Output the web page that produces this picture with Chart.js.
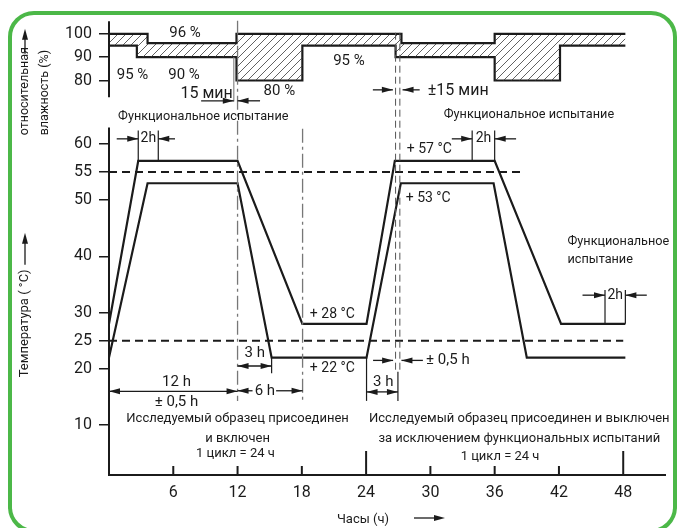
<!DOCTYPE html>
<html><head><meta charset="utf-8">
<script src="https://cdn.jsdelivr.net/npm/chart.js@4.4.1/dist/chart.umd.min.js"></script>
<style>
html,body{margin:0;padding:0;background:#fff;}
#wrap{position:relative;width:679px;height:528px;overflow:hidden;background:#fff;}
#frame{position:absolute;left:8px;top:11px;width:669px;height:522px;border:4.5px solid #4cb848;border-radius:26px;box-sizing:border-box;}
#c{position:absolute;left:0;top:0;}
</style></head>
<body><div id="wrap"><div id="frame"></div><canvas id="c" width="679" height="528"></canvas></div>
<script>
// ---- data ----
const xTicks = [6, 12, 18, 24, 30, 36, 42, 48];
const tempTicks = [10, 20, 25, 30, 40, 50, 55, 60];
const humTicks = [80, 90, 100];

const humUpperX = [0, 3.6, 11.9, 27.3, 36, 48.2];
const humUpperY = [100, 96, 100, 96, 100, 100];
const humLowerX = [0, 2.6, 11.9, 18.05, 26.75, 36, 42.1, 48.2];
const humLowerY = [95, 90, 80, 95, 90, 80, 95, 95];

const tempMaxX = [0, 2.73, 12, 18.05, 24.04, 26.68, 36, 42.2, 48.2];
const tempMaxY = [28, 57, 57, 28, 28, 57, 57, 28, 28];
const tempMinX = [0, 3.6, 12, 15.18, 24.04, 27.24, 35.9, 39, 48.2];
const tempMinY = [22, 53, 53, 22, 22, 53, 53, 22, 22];

const limitHighX = [0, 38.8], limitHighY = [55, 55];
const limitLowX = [0, 48], limitLowY = [25, 25];

// annotations (data units): axis 'h' = humidity, 't' = temperature
const refLines = [
  {x: 12, a1: 'h', v1: 105.6, a2: 't', v2: 14.3, kind: 'dashdot'},
  {x: 11.65, a1: 'h', v1: 90, a2: 'h', v2: 71, kind: 'thin'},
  {x: 18.07, a1: 't', v1: 62.7, a2: 't', v2: 14.3, kind: 'dashdot'},
  {x: 26.75, a1: 'h', v1: 100.5, a2: 't', v2: 19.5, kind: 'dash'},
  {x: 27.15, a1: 'h', v1: 100.5, a2: 't', v2: 19.5, kind: 'dash'},
  {x: 26.97, a1: 't', v1: 19.5, a2: 't', v2: 14.3, kind: 'solid'},
  {x: 24.04, a1: 't', v1: 22, a2: 't', v2: 14.3, kind: 'solid'},
  {x: 15.18, a1: 't', v1: 22, a2: 't', v2: 19.2, kind: 'solid'},
  {x: 2.73, a1: 't', v1: 57, a2: 't', v2: 62.4, kind: 'solid'},
  {x: 4.6, a1: 't', v1: 57, a2: 't', v2: 62.4, kind: 'solid'},
  {x: 33.9, a1: 't', v1: 57, a2: 't', v2: 62.4, kind: 'solid'},
  {x: 36, a1: 't', v1: 57, a2: 't', v2: 62.4, kind: 'solid'},
  {x: 46.3, a1: 't', v1: 28, a2: 't', v2: 34, kind: 'solid'},
  {x: 48.2, a1: 't', v1: 28, a2: 't', v2: 34, kind: 'solid'}
];
const arrows = [
  {x1: 8.6, x2: 11.65, a: 'h', y: 71.3},
  {x1: 14.1, x2: 12.0, a: 'h', y: 71.3},
  {x1: 24.63, x2: 26.5, a: 'h', y: 76},
  {x1: 29.0, x2: 27.4, a: 'h', y: 76},
  {x1: 0.72, x2: 2.73, a: 't', y: 60.9},
  {x1: 6.16, x2: 4.6, a: 't', y: 60.9},
  {x1: 32.0, x2: 33.9, a: 't', y: 60.9},
  {x1: 38.0, x2: 36.0, a: 't', y: 60.9},
  {x1: 44.2, x2: 46.3, a: 't', y: 33.1},
  {x1: 50.2, x2: 48.2, a: 't', y: 33.1},
  {x1: 24.65, x2: 26.52, a: 't', y: 21.5},
  {x1: 29.3, x2: 27.3, a: 't', y: 21.5},
  {x1: 12, x2: 15.18, a: 't', y: 20.5, both: true},
  {x1: 24.04, x2: 26.97, a: 't', y: 15.9, both: true},
  {x1: 0, x2: 12, a: 't', y: 16, both: true},
  {x1: 13.4, x2: 12.0, a: 't', y: 16.1},
  {x1: 15.6, x2: 18.07, a: 't', y: 16.1}
];
const notes = [
  {t: '96 %', x: 7.1, a: 'h', y: 100.3, s: 15, al: 'center'},
  {t: '95 %', x: 2.2, a: 'h', y: 82.1, s: 15, al: 'center'},
  {t: '90 %', x: 7.0, a: 'h', y: 82.1, s: 15, al: 'center'},
  {t: '80 %', x: 15.9, a: 'h', y: 75.3, s: 15, al: 'center'},
  {t: '95 %', x: 22.4, a: 'h', y: 88.2, s: 15, al: 'center'},
  {t: '15 мин', x: 11.55, a: 'h', y: 74.3, s: 16, al: 'right'},
  {t: '±15 мин', x: 29.76, a: 'h', y: 75.5, s: 16, al: 'left'},
  {t: 'Функциональное испытание', x: 8.8, a: 't', y: 64.8, s: 12.7, al: 'center'},
  {t: 'Функциональное испытание', x: 39.2, a: 't', y: 65.1, s: 12.7, al: 'center'},
  {t: '2h', x: 3.67, a: 't', y: 60.9, s: 14, al: 'center'},
  {t: '2h', x: 34.95, a: 't', y: 60.9, s: 14, al: 'center'},
  {t: '+ 57 °C', x: 27.8, a: 't', y: 59, s: 14, al: 'left'},
  {t: '+ 53 °C', x: 27.7, a: 't', y: 50.3, s: 14, al: 'left'},
  {t: 'Функциональное', x: 42.8, a: 't', y: 42.5, s: 12.7, al: 'left'},
  {t: 'испытание', x: 42.8, a: 't', y: 39.4, s: 12.7, al: 'left'},
  {t: '2h', x: 47.25, a: 't', y: 33.1, s: 14, al: 'center'},
  {t: '+ 28 °C', x: 18.75, a: 't', y: 29.7, s: 14, al: 'left'},
  {t: '+ 22 °C', x: 18.75, a: 't', y: 20.1, s: 14, al: 'left'},
  {t: '3 h', x: 13.6, a: 't', y: 22.7, s: 15, al: 'center'},
  {t: '± 0,5 h', x: 29.6, a: 't', y: 21.5, s: 15, al: 'left'},
  {t: '3 h', x: 25.6, a: 't', y: 17.7, s: 15, al: 'center'},
  {t: '12 h', x: 6.3, a: 't', y: 17.7, s: 15, al: 'center'},
  {t: '± 0,5 h', x: 6.3, a: 't', y: 14.1, s: 15, al: 'center'},
  {t: '6 h', x: 14.55, a: 't', y: 16.1, s: 15, al: 'center'},
  {t: 'Исследуемый образец присоединен', x: 12, a: 't', y: 11.2, s: 13, al: 'center'},
  {t: 'и включен', x: 12, a: 't', y: 7.5, s: 13, al: 'center'},
  {t: '1 цикл = 24 ч', x: 11.8, a: 't', y: 4.97, s: 13, al: 'center'},
  {t: 'Исследуемый образец присоединен и выключен', x: 38.3, a: 't', y: 11.2, s: 13, al: 'center'},
  {t: 'за исключением функциональных испытаний', x: 38.3, a: 't', y: 7.5, s: 13, al: 'center'},
  {t: '1 цикл = 24 ч', x: 36.5, a: 't', y: 4.3, s: 13, al: 'center'}
];

// ---- helpers ----
const FONT = 'Roboto, "Noto Sans", sans-serif';
const INK = '#1b1b1b';
const pts = (xs, ys) => xs.map((x, i) => ({x: x, y: ys[i]}));

function hatch() {
  const c = document.createElement('canvas');
  c.width = 8; c.height = 8;
  const g = c.getContext('2d');
  g.strokeStyle = '#3a3a3a'; g.lineWidth = 0.8;
  g.beginPath();
  g.moveTo(-1, 9); g.lineTo(9, -1);
  g.moveTo(-1, 1); g.lineTo(1, -1);
  g.moveTo(7, 9); g.lineTo(9, 7);
  g.stroke();
  return g.createPattern(c, 'repeat');
}

function head(ctx, x, y, dir) {
  ctx.beginPath();
  ctx.moveTo(x, y);
  ctx.lineTo(x - dir * 11, y - 3);
  ctx.lineTo(x - dir * 11, y + 3);
  ctx.closePath();
  ctx.fill();
}

const drawer = {
  id: 'drawer',
  afterDatasetsDraw(chart) {
    const ctx = chart.ctx;
    const X = chart.scales.x, H = chart.scales.yH, T = chart.scales.yT;
    const Y = (a, v) => (a === 'h' ? H : T).getPixelForValue(v);
    ctx.save();
    // axis lines
    ctx.strokeStyle = INK; ctx.lineWidth = 2;
    const x0 = X.getPixelForValue(0);
    ctx.beginPath();
    ctx.moveTo(x0, Y('h', 105.4)); ctx.lineTo(x0, Y('h', 72.8));
    ctx.moveTo(x0, Y('t', 62.9)); ctx.lineTo(x0, X.top);
    ctx.stroke();
    // x tick marks (inward)
    ctx.lineWidth = 2;
    xTicks.forEach(v => {
      const px = X.getPixelForValue(v);
      const len = (v % 24 === 0) ? 24 : 9;
      ctx.beginPath(); ctx.moveTo(px, X.top); ctx.lineTo(px, X.top - len); ctx.stroke();
    });
    // reference lines
    refLines.forEach(r => {
      const px = X.getPixelForValue(r.x);
      ctx.beginPath();
      if (r.kind === 'dashdot') { ctx.setLineDash([14, 4, 3, 4]); ctx.strokeStyle = '#777'; ctx.lineWidth = 1.3; }
      else if (r.kind === 'dash') { ctx.setLineDash([7, 4]); ctx.strokeStyle = '#555'; ctx.lineWidth = 1; }
      else if (r.kind === 'thin') { ctx.setLineDash([]); ctx.strokeStyle = '#888'; ctx.lineWidth = 1.2; }
      else { ctx.setLineDash([]); ctx.strokeStyle = INK; ctx.lineWidth = 1.2; }
      ctx.moveTo(px, Y(r.a1, r.v1)); ctx.lineTo(px, Y(r.a2, r.v2));
      ctx.stroke();
    });
    ctx.setLineDash([]);
    // arrows
    ctx.strokeStyle = INK; ctx.fillStyle = INK; ctx.lineWidth = 1.3;
    arrows.forEach(a => {
      const p1 = X.getPixelForValue(a.x1), p2 = X.getPixelForValue(a.x2), py = Y(a.a, a.y);
      ctx.beginPath(); ctx.moveTo(p1, py); ctx.lineTo(p2, py); ctx.stroke();
      const dir = p2 > p1 ? 1 : -1;
      head(ctx, p2, py, dir);
      if (a.both) head(ctx, p1, py, -dir);
    });
    // notes
    ctx.fillStyle = INK; ctx.textBaseline = 'middle';
    notes.forEach(n => {
      ctx.font = n.s + 'px ' + FONT;
      ctx.textAlign = n.al;
      ctx.fillText(n.t, X.getPixelForValue(n.x), Y(n.a, n.y));
    });
    // axis titles
    ctx.font = '13px ' + FONT;
    ctx.textAlign = 'left';
    const tx = x0 - 84;
    const rot = (txt, x, y) => { ctx.save(); ctx.translate(x, y); ctx.rotate(-Math.PI / 2); ctx.fillText(txt, 0, 0); ctx.restore(); };
    rot('Температура ( °C)', tx, Y('t', 18.5));
    ctx.font = '12.5px ' + FONT;
    rot('относительная', tx, Y('h', 56.5));
    rot('влажность (%)', tx + 20, Y('h', 56.5));
    const up = (x, yb, yt) => {
      ctx.beginPath(); ctx.moveTo(x, yb); ctx.lineTo(x, yt + 8); ctx.stroke();
      ctx.beginPath(); ctx.moveTo(x, yt); ctx.lineTo(x - 3, yt + 11); ctx.lineTo(x + 3, yt + 11); ctx.closePath(); ctx.fill();
    };
    ctx.lineWidth = 1.3;
    up(tx, Y('t', 38.5), Y('t', 44.2));
    up(tx, Y('h', 91.5), Y('h', 102.2));
    // x title
    ctx.font = '13px ' + FONT;
    ctx.textAlign = 'center';
    ctx.fillText('Часы (ч)', 363, 520);
    ctx.beginPath(); ctx.moveTo(414, 518); ctx.lineTo(436, 518); ctx.stroke();
    head(ctx, 445, 518, 1);
    ctx.restore();
  }
};

const lineDs = (data, axis, extra) => Object.assign({
  data: data, yAxisID: axis, borderColor: INK, borderWidth: 2.2, pointRadius: 0,
  tension: 0, fill: false, borderJoinStyle: 'miter', borderCapStyle: 'butt'
}, extra || {});

new Chart(document.getElementById('c'), {
  type: 'line',
  data: {
    datasets: [
      lineDs(pts(humUpperX, humUpperY), 'yH', {stepped: 'before', fill: '+1', backgroundColor: hatch()}),
      lineDs(pts(humLowerX, humLowerY), 'yH', {stepped: 'before'}),
      lineDs(pts(tempMaxX, tempMaxY), 'yT'),
      lineDs(pts(tempMinX, tempMinY), 'yT'),
      lineDs(pts(limitHighX, limitHighY), 'yT', {borderDash: [8, 5], borderWidth: 2}),
      lineDs(pts(limitLowX, limitLowY), 'yT', {borderDash: [8, 5], borderWidth: 2})
    ]
  },
  options: {
    responsive: false,
    animation: false,
    devicePixelRatio: 1,
    layout: {padding: {left: 9, right: 14, top: 16, bottom: 0}},
    plugins: {legend: {display: false}, tooltip: {enabled: false}},
    scales: {
      x: {
        type: 'linear', min: 0, max: 51.9,
        grid: {display: false, drawTicks: false},
        border: {display: true, color: INK, width: 2},
        ticks: {color: INK, font: {family: FONT, size: 16}, padding: 8},
        afterBuildTicks: s => { s.ticks = xTicks.map(v => ({value: v})); },
        afterFit: s => { s.height = 53; }
      },
      yH: {
        type: 'linear', position: 'left', stack: 'v', stackWeight: 96, weight: 1,
        min: 66.3, max: 107.41,
        grid: {display: true, drawOnChartArea: false, drawTicks: true, tickLength: 10, color: INK, lineWidth: 1.5},
        border: {display: false},
        ticks: {color: INK, font: {family: FONT, size: 16}, padding: 7},
        afterBuildTicks: s => { s.ticks = humTicks.map(v => ({value: v})); },
        afterFit: s => { s.width = 100; }
      },
      yT: {
        type: 'linear', position: 'left', stack: 'v', stackWeight: 363, weight: 0,
        min: 1.12, max: 65.59,
        grid: {display: true, drawOnChartArea: false, drawTicks: true, tickLength: 10, color: INK, lineWidth: 1.5},
        border: {display: false},
        ticks: {color: INK, font: {family: FONT, size: 16}, padding: 7},
        afterBuildTicks: s => { s.ticks = tempTicks.map(v => ({value: v})); },
        afterFit: s => { s.width = 100; }
      }
    }
  },
  plugins: [drawer]
});
</script></body></html>
